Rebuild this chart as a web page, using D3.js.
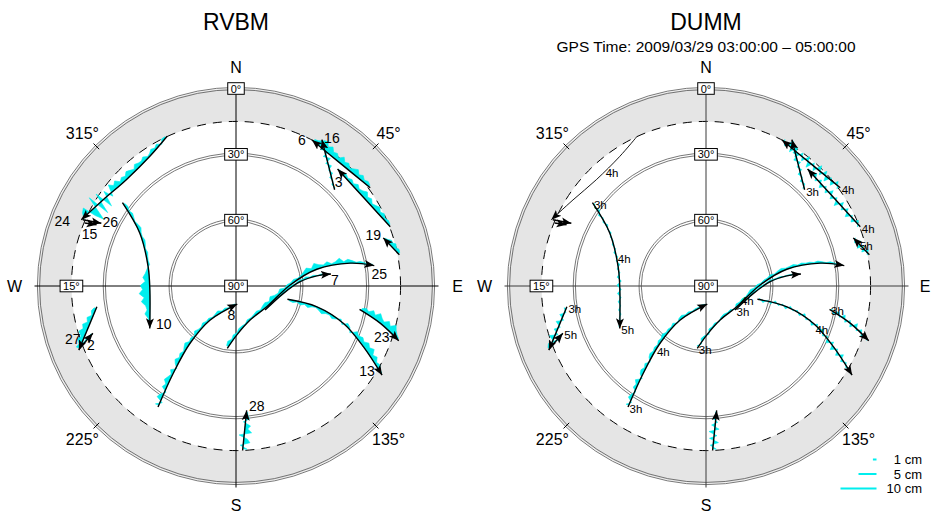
<!DOCTYPE html>
<html><head><meta charset="utf-8">
<script src="https://cdn.jsdelivr.net/npm/d3@7"></script>
<style>body{margin:0;background:#fff}svg{display:block}text{font-family:"Liberation Sans",Arial,Helvetica,sans-serif}</style>
</head><body><svg id="c" width="931" height="512"></svg>
<script>
// ---------------- data ----------------
const stations = ["RVBM", "DUMM"];
const subtitle = "GPS Time: 2009/03/29 03:00:00 \u2013 05:00:00";
const compass = [["N", 0], ["E", 90], ["S", 180], ["W", 270]];
const azTicks = [45, 135, 225, 315];
const elevRings = [0, 30, 60];
const elevLabels = [[0, 0], [30, 0], [60, 0], [90, 0], [15, 270]]; // [elevation, azimuth where label sits]
const maskElev = 15;
const legendCm = [1, 5, 10];

// satellite tracks: [azimuth deg, elevation deg], start -> end (arrow)
const trk24 = [[335.3,14.9],[326.4,19.05],[314.1,20.4],[302.9,17.8],[293.2,13.3]];
const trk26 = [[293.4,13.95],[295.0,22.3]];
const trk15 = [[292.6,15.3],[293.7,20.6]];
const trk10 = [[306.3,25.8],[298.8,40.0],[282.4,49.0],[267.3,50.7],[243.8,46.2]];
const trk8  = [[212.8,24.4],[215.7,40.9],[218.75,56.4],[217.4,70.4],[175.9,81.75]];
const trk25 = [[187.95,61.3],[179.2,67.6],[157.6,73.2],[124.0,73.1],[88.9,65.3],[78.3,52.4],[78.7,36.9],[81.6,26.3]];
const trk7  = [[129.6,72.8],[98.8,68.1],[86.2,60.7],[82.9,52.9],[82.8,46.4]];
const trk13 = [[104.5,65.8],[104.4,51.9],[109.2,38.1],[115.5,25.6],[121.4,12.0]];
const trk23 = [[100.7,32.7],[104.5,22.0],[108.6,11.75]];
const trk28 = [[177.7,15.0],[175.1,33.1]];
const trk27 = [[261.5,25.9],[247.8,12.65]];
const trk2  = [[248.3,13.3],[251.7,21.3]];
const trk6  = [[53.8,14.2],[40.7,16.6],[27.5,15.0]];
const trk16 = [[45.7,27.2],[37.25,20.55],[30.4,12.65]];
const trk3  = [[69.0,14.7],[55.5,19.2],[40.96,19.4]];
const trk19 = [[79.2,14.2],[71.9,19.4]];
const prns = ["24","26","15","10","8","25","7","13","23","28","27","2","6","16","3","19"];

// multipath residuals (mm), sampled evenly along each track, + = left of travel direction
const rv24 = [-4,-7,3,-9,-5,-11,-6,-4,-13,-8,-10,-15,-6,-12,-17,-9,-14,-7,-19,-11,-22,10,-16,28,-25,35,-30,40,18,-20,-12,6];
const rv26 = [];
const rv15 = [];
const rv10 = [4,7,3,8,5,2,6,9,4,3,7,5,2,6,4,3,5,-4,-10,-18,-12,-26,-20,-30,-16,-24,-12,-8,-14,-5,-3,2];
const rv8  = [10,-6,14,8,-4,12,6,15,9,4,11,-3,7,13,5,9,3,8,12,4,7,2,10,5,3,8,4,6,2,5,9,3,6,2,4,3];
const rv25 = [6,10,4,8,3,7,5,2,6,3,5,8,4,9,12,6,14,8,5,10,3,6,4,7,3,5,9,15,7,18,10,6,12,4,8,16,5,11,7,3,6,4,2,3];
const rv7  = [2,4,1,3,5,2,6,3,8,4,2,5,3,6,2,4,1,3,2,1];
const rv13 = [-3,-6,-2,-8,-4,-10,-5,-3,-7,-12,-6,-4,-9,-3,5,-5,8,4,-6,12,7,14,9,18,12,20,8,15,6,10,4,2];
const rv23 = [6,12,8,18,10,22,14,9,20,12,25,15,8,4];
const rv28 = [-12,8,-18,-10,14,-20,-8,-15,6,-10,-5,-3];
const rv27 = [-6,-10,-4,-14,-8,-18,-12,-20,-9,-15,-6,-10];
const rv2  = [3,5,2,4,2,3];
const rv6  = [-5,-10,-6,-14,-8,-18,-12,-6,-15,-10,-20,-8,-16,-12,-22,-14,-25,-18,-10,-6];
const rv16 = [-3,4,-2,5,-6,3,-8,6,-10,8,-12,10,-14,-8];
const rv3  = [-4,-8,-5,-12,-7,-15,-10,-6,-14,-9,-18,-11,-7,-13,-5,-10,-4,-8,-3,-2];
const rv19 = [-5,-10,-7,-14,-9,-12,-6,-3];

const du24 = [];
const du26 = [];
const du15 = [];
const du10 = [4,-3,6,-5,3,-4,5,-2,4,-3,2,-4,3,-5,4,-3,6,-4,3,-6,5,-8,4,-7,3,-5,2,-4,3,-2,4,-3];
const du8  = [8,-4,10,6,-3,9,5,12,-4,7,10,4,8,-3,6,9,4,7,3,8,5,10,4,6,3,7,-2,5,8,3,6,2,4,3,5,2];
const du25 = [5,-3,7,4,-4,6,3,5,-2,4,6,3,5,-3,7,4,6,3,5,8,4,6,3,5,4,7,3,6,8,4,5,7,3,6,4,5,3,6,4,2,5,3,2,1];
const du7  = [3,-2,4,2,-3,3,5,2,4,3,2,4,3,2,3,1,2,2,1,1];
const du13 = [4,-6,3,-5,6,-4,3,-7,5,-3,4,-6,7,-5,3,-8,6,-4,9,-6,5,-10,8,-12,6,-9,10,-7,5,-4,3,-2];
const du23 = [5,-6,8,-4,10,-7,6,-9,12,-5,8,-6,4,-3];
const du28 = [-10,8,-14,12,-8,15,-12,10,-6,8,-4,3];
const du27 = [-6,4,-10,6,-12,5,-9,7,-14,4,-8,-5];
const du2  = [3,-2,4,-3,2,2];
const du6  = [8,-10,12,-6,14,-12,9,-15,11,-8,16,-13,10,-9,14,-11,12,-16,8,-6];
const du16 = [4,-5,6,-3,7,-6,5,-8,9,-4,6,-7,5,-3];
const du3  = [6,-8,10,-5,12,-9,8,-11,14,-7,10,-12,9,-6,11,-8,7,-10,5,-4];
const du19 = [5,-8,10,-6,12,-9,7,-4];

// hour marks on the DUMM plot: [azimuth, elevation, text]
const hourMarks = [
  [306.3,25.8,"3h"],[288,47,"4h"],[243.8,46.2,"5h"],[318.5,20.0,"4h"],
  [261.5,25.9,"3h"],[251.7,21.3,"5h"],[212.8,24.4,"3h"],[218.5,53,"4h"],
  [187.95,61.3,"3h"],[110.9,73.7,"4h"],[129.6,72.8,"3h"],[111.3,37.2,"4h"],
  [100.7,32.7,"3h"],[45.7,27.2,"3h"],[53.8,14.2,"4h"],[69.0,14.7,"4h"],[74.5,18.0,"5h"]
];

// ---------------- layout ----------------
const W = 931, H = 512;
const centersX = [236, 706], cy = 286, R = 197.5;
const prnLabelOffset = {"24":[-19,1],"26":[9,-1],"15":[-7,9],"10":[14,-4],"8":[-6,11],"25":[5,8],"7":[4,6],
  "13":[-15,-4],"23":[-17,-4],"28":[10,-4],"27":[-6,-11],"2":[-2,12],"6":[-10,0],"16":[10,-2],"3":[1,13],"19":[-10,-3]};

const trackTable = {"24":trk24,"26":trk26,"15":trk15,"10":trk10,"8":trk8,"25":trk25,"7":trk7,"13":trk13,
  "23":trk23,"28":trk28,"27":trk27,"2":trk2,"6":trk6,"16":trk16,"3":trk3,"19":trk19};
const resTable = [
  {"24":rv24,"26":rv26,"15":rv15,"10":rv10,"8":rv8,"25":rv25,"7":rv7,"13":rv13,"23":rv23,"28":rv28,"27":rv27,"2":rv2,"6":rv6,"16":rv16,"3":rv3,"19":rv19},
  {"24":du24,"26":du26,"15":du15,"10":du10,"8":du8,"25":du25,"7":du7,"13":du13,"23":du23,"28":du28,"27":du27,"2":du2,"6":du6,"16":du16,"3":du3,"19":du19}
];

const rScale = d3.scaleLinear().domain([90, 0]).range([0, R]);
const resScale = d3.scaleLinear().domain([0, 100]).range([0, 36]); // mm -> px (10 cm = 36 px)
const CYAN = "#00eeee";

const svg = d3.select("#c");
const defs = svg.append("defs");
defs.append("marker").attr("id", "arr").attr("viewBox", "0 -5 10 10")
  .attr("refX", 10).attr("refY", 0).attr("markerWidth", 10).attr("markerHeight", 10)
  .attr("markerUnits", "userSpaceOnUse").attr("orient", "auto")
  .append("path").attr("d", "M0,-4L10,0L0,4L2.2,0Z").attr("fill", "#000");

function proj(cx, az, el) {
  const r = rScale(el), a = az * Math.PI / 180;
  return [cx + r * Math.sin(a), cy - r * Math.cos(a)];
}
const lineGen = d3.line().curve(d3.curveCatmullRom.alpha(0.5));

function drawPlot(i) {
  const cx = centersX[i];
  const axisCol = i === 0 ? "#000" : "#3a3a3a";
  const g = svg.append("g");

  // title
  g.append("text").attr("x", cx).attr("y", 30).attr("text-anchor", "middle")
    .attr("font-size", 23).text(stations[i]);
  if (i === 1) g.append("text").attr("x", cx).attr("y", 51.5).attr("text-anchor", "middle")
    .attr("font-size", 15.5).text(subtitle);

  // gray band below the elevation mask
  g.append("path").attr("transform", `translate(${cx},${cy})`)
    .attr("d", d3.arc()({innerRadius: rScale(maskElev), outerRadius: R, startAngle: 0, endAngle: 2 * Math.PI}))
    .attr("fill", "#e5e5e5");
  g.append("circle").attr("cx", cx).attr("cy", cy).attr("r", rScale(maskElev))
    .attr("fill", "none").attr("stroke", "#000").attr("stroke-width", 1).attr("stroke-dasharray", "9,7");

  // double rings
  elevRings.forEach(el => [-1.1, 1.1].forEach(o => {
    g.append("circle").attr("cx", cx).attr("cy", cy).attr("r", rScale(el) + o)
      .attr("fill", "none").attr("stroke", "#555").attr("stroke-width", 0.8);
  }));

  // cross hairs
  g.append("line").attr("x1", cx - R - 4).attr("x2", cx + R + 5).attr("y1", cy).attr("y2", cy)
    .attr("stroke", axisCol).attr("stroke-width", 1);
  g.append("line").attr("x1", cx).attr("x2", cx).attr("y1", cy - R - 2).attr("y2", cy + R + 4)
    .attr("stroke", axisCol).attr("stroke-width", 1);

  // azimuth ticks + labels
  azTicks.forEach(az => {
    const p1 = proj(cx, az, rScale.invert(R - 4)), p2 = proj(cx, az, rScale.invert(R + 4));
    g.append("line").attr("x1", p1[0]).attr("y1", p1[1]).attr("x2", p2[0]).attr("y2", p2[1])
      .attr("stroke", "#000").attr("stroke-width", 1);
    const a = az * Math.PI / 180, rl = R + 19;
    g.append("text").attr("x", cx + rl * Math.sin(a) - 0.5).attr("y", cy - rl * Math.cos(a) + 6)
      .attr("text-anchor", "middle").attr("font-size", 16).text(az + "\u00b0");
  });
  compass.forEach(([t, az]) => {
    const a = az * Math.PI / 180;
    const rl = (az === 0 || az === 180) ? (az === 0 ? R + 22 : R + 21) : R + 24;
    let x = cx + rl * Math.sin(a);
    x = Math.min(x, W - 6);
    g.append("text").attr("x", x).attr("y", cy - rl * Math.cos(a) + 6)
      .attr("text-anchor", "middle").attr("font-size", 16).text(t);
  });

  // elevation label boxes
  elevLabels.forEach(([el, az]) => {
    const p = proj(cx, az, el);
    const t = g.append("text").attr("x", p[0]).attr("y", p[1] + 4).attr("text-anchor", "middle")
      .attr("font-size", 11).text(el + "\u00b0");
    const w = t.node().getComputedTextLength() + 6;
    g.insert("rect", () => t.node()).attr("x", p[0] - w / 2).attr("y", p[1] - 5.8).attr("width", w).attr("height", 11.6)
      .attr("fill", "#fff").attr("stroke", "#000").attr("stroke-width", 1);
  });

  // residuals and tracks
  const gRes = g.append("g"), gTrk = g.append("g"), gLab = g.append("g");
  prns.forEach(prn => {
    const pts = trackTable[prn].map(d => proj(cx, d[0], d[1]));
    const path = gTrk.append("path").attr("d", lineGen(pts)).attr("fill", "none")
      .attr("stroke", "#000").attr("stroke-width", (i === 1 && prn === "24") ? 0.9 : 1.4)
      .attr("marker-end", "url(#arr)");
    const vals = resTable[i][prn];
    if (vals.length) {
      const node = path.node(), L = node.getTotalLength(), n = vals.length;
      const base = [], off = [];
      vals.forEach((v, k) => {
        const s = L * (k + 0.5) / n;
        const a = node.getPointAtLength(Math.max(0, s - 0.8)), b = node.getPointAtLength(Math.min(L, s + 0.8));
        const p = node.getPointAtLength(s);
        let dx = b.x - a.x, dy = b.y - a.y; const m = Math.hypot(dx, dy) || 1; dx /= m; dy /= m;
        const len = resScale(v);
        base.push([p.x, p.y]);
        off.push([p.x + dy * len, p.y - dx * len]);
      });
      gRes.append("path").attr("d", d3.line()(off.concat(base.slice().reverse())) + "Z")
        .attr("fill", CYAN).attr("stroke", CYAN).attr("stroke-width", 0.6).attr("stroke-linejoin", "round");
    }
    if (i === 0) {
      const e = pts[pts.length - 1], o = prnLabelOffset[prn];
      gLab.append("text").attr("x", e[0] + o[0]).attr("y", e[1] + o[1] + 5).attr("text-anchor", "middle")
        .attr("font-size", 14).text(prn);
    }
  });
  if (i === 1) {
    hourMarks.forEach(([az, el, t]) => {
      const p = proj(cx, az, el);
      gLab.append("text").attr("x", p[0] + 1.5).attr("y", p[1] + 6).attr("font-size", 11.5).text(t);
    });
  }
}
drawPlot(0);
drawPlot(1);

// legend
const lg = svg.append("g");
const legX = 876.5, legY = [459.5, 474, 488.5];
legendCm.forEach((cm, k) => {
  lg.append("line").attr("x1", legX - resScale(cm * 10)).attr("x2", legX).attr("y1", legY[k]).attr("y2", legY[k])
    .attr("stroke", CYAN).attr("stroke-width", 2);
  lg.append("text").attr("x", 922).attr("y", legY[k] + 4.6).attr("text-anchor", "end").attr("font-size", 13).text(cm + " cm");
});
</script></body></html>
